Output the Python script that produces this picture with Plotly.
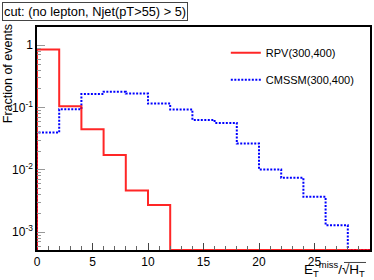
import plotly.graph_objects as go

bin_edges = [0, 2, 4, 6, 8, 10, 12, 14, 16, 18, 20, 22, 24, 26, 28, 30]
rpv_values = [0.853, 0.105, 0.045, 0.0173, 0.0047, 0.00273, 0, 0, 0, 0, 0, 0, 0, 0, 0]
cmssm_values = [0.0399, 0.094, 0.166, 0.179, 0.168, 0.116, 0.093, 0.0635, 0.0569,
                0.0266, 0.0102, 0.00748, 0.0037, 0.0013, 0]
ytick_vals = [1e-3, 1e-2, 1e-1, 1]
ytick_text = ["10<sup>-3</sup>", "10<sup>-2</sup>", "10<sup>-1</sup>", "1"]

ylog_range = [-3.284, 0.293]
floor = 10 ** ylog_range[0]


def step(edges, vals):
    xs = [edges[0]]
    ys = [floor]
    for i, v in enumerate(vals):
        v = max(v, floor)
        xs += [edges[i], edges[i + 1]]
        ys += [v, v]
    return xs, ys


fig = go.Figure()
xr, yr = step(bin_edges, rpv_values)
xc, yc = step(bin_edges, cmssm_values)
fig.add_trace(go.Scatter(x=xc, y=yc, mode="lines", name="CMSSM(300,400)",
                         line=dict(color="#0000ff", width=2, dash="2px,1.5px"), showlegend=False))
fig.add_trace(go.Scatter(x=xr, y=yr, mode="lines", name="RPV(300,400)", legendgroup="a",
                         line=dict(color="rgba(255,0,0,0.85)", width=2)))
fig.add_trace(go.Scatter(x=[None], y=[None], mode="lines", name="CMSSM(300,400)",
                         legendgroup="b",
                         line=dict(color="#0000ff", width=2, dash="2px,1.5px")))

PW, PH = 333, 223.3
fig.update_layout(
    width=374, height=280,
    margin=dict(l=37, r=4, t=27, b=30, autoexpand=False),
    paper_bgcolor="white", plot_bgcolor="white",
    font=dict(family="Liberation Sans, Arial, sans-serif", size=12, color="black"),
    legend=dict(x=0.567, y=0.95, xanchor="left", yanchor="top",
                bgcolor="rgba(0,0,0,0)", font=dict(size=11), traceorder="grouped",
                tracegroupgap=8, itemwidth=30),
    xaxis=dict(range=[0, 30], showline=True, linecolor="black", linewidth=1.5,
               mirror=True, ticks="inside", ticklen=7, tickcolor="#444",
               dtick=5, showgrid=False, zeroline=False, automargin=False,
               tickfont=dict(size=12),
               minor=dict(ticks="inside", ticklen=4, dtick=1, tickcolor="#666")),
    yaxis=dict(type="log", range=ylog_range, showline=True, linecolor="black",
               linewidth=1.5, mirror=True, ticks="inside", ticklen=8,
               tickcolor="#999", tickvals=ytick_vals, ticktext=ytick_text,
               showgrid=False, zeroline=False, tickfont=dict(size=12), automargin=False,
               minor=dict(ticks="inside", ticklen=4, tickcolor="#999", dtick="D1")),
)

fig.add_annotation(text="Fraction of events", xref="paper", yref="paper",
                   x=-29 / PW, y=(250 - 74) / PH, xanchor="center", yanchor="middle",
                   textangle=-90, showarrow=False, font=dict(size=12.5))
fig.add_annotation(text="cut: (no lepton, Njet(pT>55) > 5)", xref="paper", yref="paper",
                   x=-35 / PW, y=1 + 25 / PH, xanchor="left", yanchor="top",
                   showarrow=False, bordercolor="#444", borderwidth=1, borderpad=1,
                   font=dict(size=12.8), bgcolor="white")
fig.add_annotation(text="E<sub>T</sub><sup>miss</sup>/√H<sub>T</sub>", xref="paper",
                   yref="paper", x=(367 - 37) / PW, y=-31 / PH, xanchor="right",
                   yanchor="bottom", showarrow=False, font=dict(size=13.5))
fig.add_shape(type="line", xref="paper", yref="paper",
              x0=(344 - 37) / PW, x1=(366 - 37) / PW, y0=-12.5 / PH, y1=-12.5 / PH,
              line=dict(color="#444", width=1))

fig.write_html("out.html", post_script="document.body.style.margin='0px';",
               config={"displayModeBar": False})
